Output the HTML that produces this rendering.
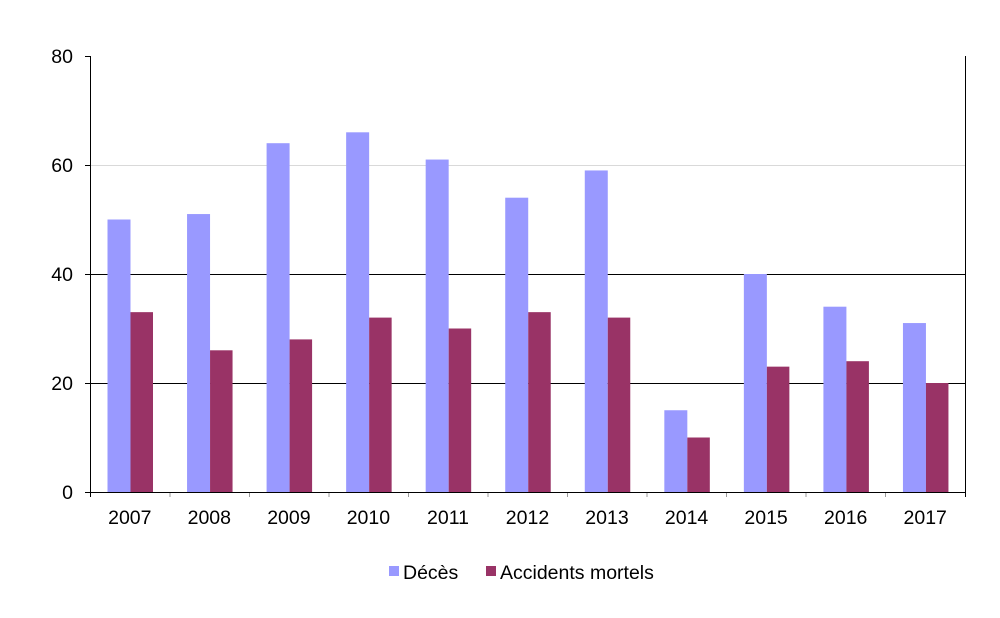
<!DOCTYPE html>
<html><head><meta charset="utf-8"><style>
body{margin:0;background:#fff;}
text{font-family:"Liberation Sans",Arial,sans-serif;fill:#000;}
</style></head><body>
<svg width="1000" height="613" xmlns="http://www.w3.org/2000/svg">
<line x1="90" y1="165.5" x2="965" y2="165.5" stroke="#d9d9d9" stroke-width="1"/>
<line x1="90" y1="274.5" x2="965" y2="274.5" stroke="#000" stroke-width="1"/>
<line x1="90" y1="383.5" x2="965" y2="383.5" stroke="#000" stroke-width="1"/>
<g fill="#9999ff">
<rect x="107.5" y="219.5" width="23" height="272.5"/>
<rect x="187.05" y="214.05" width="23" height="277.95"/>
<rect x="266.59" y="143.2" width="23" height="348.8"/>
<rect x="346.14" y="132.3" width="23" height="359.7"/>
<rect x="425.68" y="159.55" width="23" height="332.45"/>
<rect x="505.23" y="197.7" width="23" height="294.3"/>
<rect x="584.77" y="170.45" width="23" height="321.55"/>
<rect x="664.32" y="410.25" width="23" height="81.75"/>
<rect x="743.86" y="274" width="23" height="218"/>
<rect x="823.41" y="306.7" width="23" height="185.3"/>
<rect x="902.95" y="323.05" width="23" height="168.95"/>
</g>
<g fill="#993366">
<rect x="130.5" y="312.15" width="22.5" height="179.85"/>
<rect x="210.05" y="350.3" width="22.5" height="141.7"/>
<rect x="289.59" y="339.4" width="22.5" height="152.6"/>
<rect x="369.14" y="317.6" width="22.5" height="174.4"/>
<rect x="448.68" y="328.5" width="22.5" height="163.5"/>
<rect x="528.23" y="312.15" width="22.5" height="179.85"/>
<rect x="607.77" y="317.6" width="22.5" height="174.4"/>
<rect x="687.32" y="437.5" width="22.5" height="54.5"/>
<rect x="766.86" y="366.65" width="22.5" height="125.35"/>
<rect x="846.41" y="361.2" width="22.5" height="130.8"/>
<rect x="925.95" y="383" width="22.5" height="109"/>
</g>
<line x1="90.5" y1="56" x2="90.5" y2="497" stroke="#000"/>
<line x1="965.5" y1="56" x2="965.5" y2="497" stroke="#000"/>
<line x1="85" y1="492.5" x2="966" y2="492.5" stroke="#000"/>
<g stroke="#000"><line x1="85" y1="56.5" x2="90" y2="56.5"/><line x1="85" y1="165.5" x2="90" y2="165.5"/><line x1="85" y1="274.5" x2="90" y2="274.5"/><line x1="85" y1="383.5" x2="90" y2="383.5"/></g>
<g stroke="#999">
<line x1="170" y1="493" x2="170" y2="497"/><line x1="249.5" y1="493" x2="249.5" y2="497"/><line x1="329" y1="493" x2="329" y2="497"/><line x1="408.5" y1="493" x2="408.5" y2="497"/><line x1="488" y1="493" x2="488" y2="497"/><line x1="567.5" y1="493" x2="567.5" y2="497"/><line x1="647" y1="493" x2="647" y2="497"/><line x1="726.5" y1="493" x2="726.5" y2="497"/><line x1="806" y1="493" x2="806" y2="497"/><line x1="885.5" y1="493" x2="885.5" y2="497"/>
</g>
<g font-size="19.5" text-anchor="end">
<text x="73" y="63">80</text><text x="73" y="172">60</text><text x="73" y="281">40</text><text x="73" y="390">20</text><text x="73" y="499">0</text>
</g>
<g font-size="19.5" text-anchor="middle">
<text x="129.8" y="524">2007</text><text x="209.3" y="524">2008</text><text x="288.9" y="524">2009</text><text x="368.4" y="524">2010</text><text x="448" y="524">2011</text><text x="527.5" y="524">2012</text><text x="607" y="524">2013</text><text x="686.6" y="524">2014</text><text x="766.1" y="524">2015</text><text x="845.7" y="524">2016</text><text x="925.2" y="524">2017</text>
</g>
<rect x="389" y="566" width="10" height="10" fill="#9999ff"/>
<text x="403" y="579" font-size="19.5">Décès</text>
<rect x="486" y="566" width="10" height="10" fill="#993366"/>
<text x="500" y="579" font-size="19.5">Accidents mortels</text>
</svg>
</body></html>
